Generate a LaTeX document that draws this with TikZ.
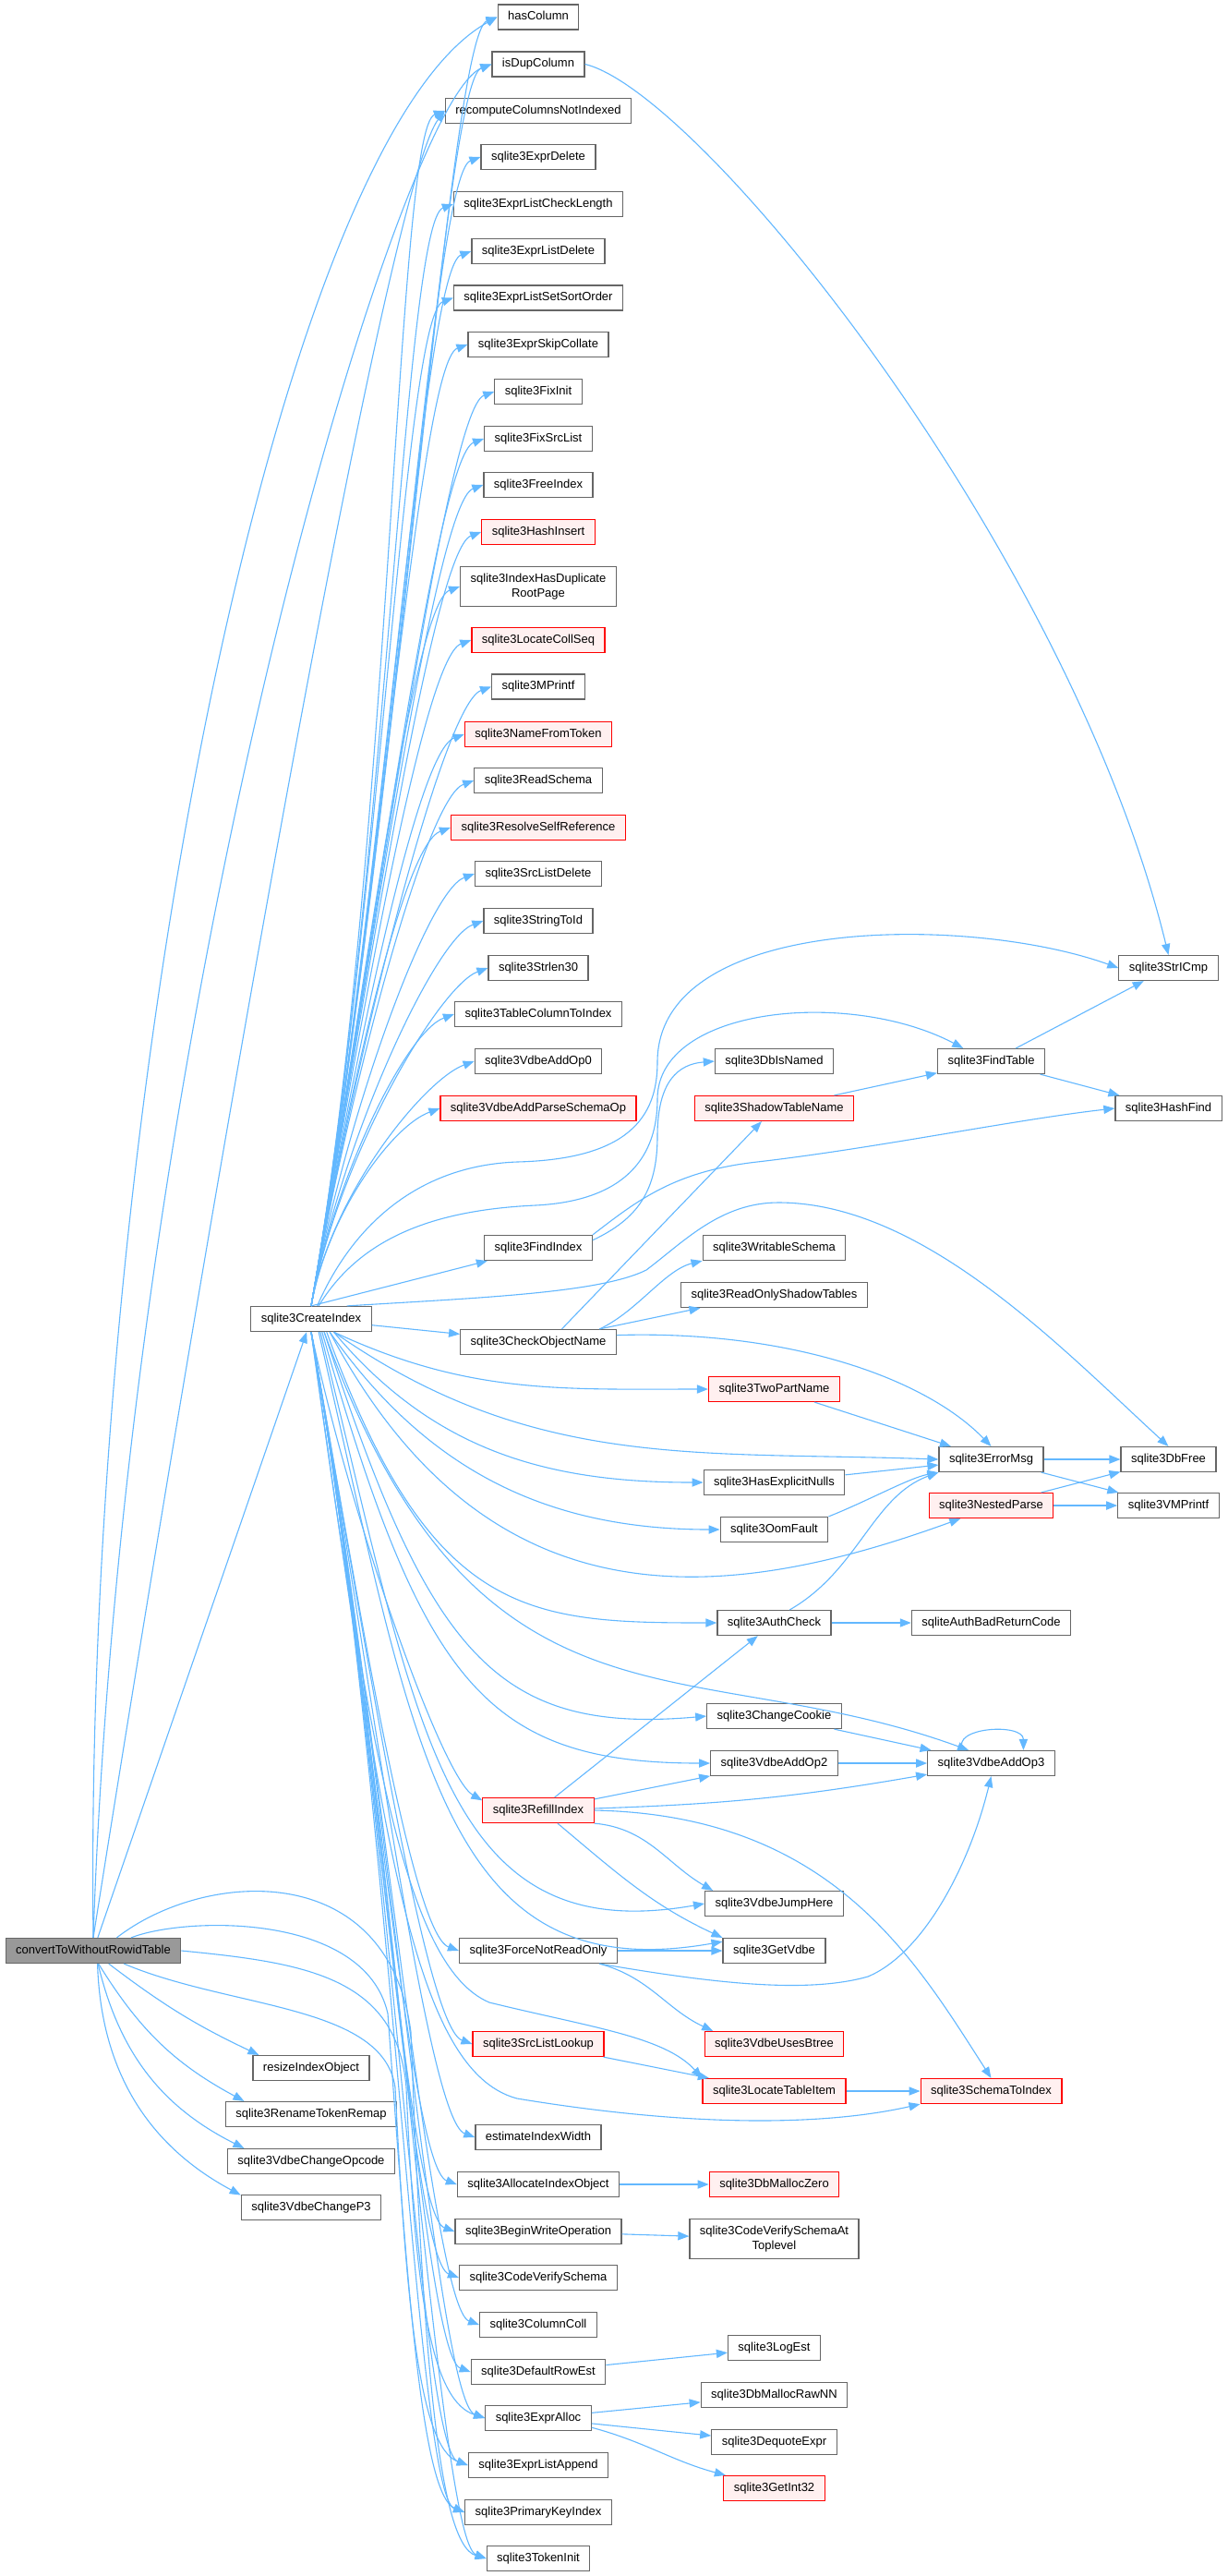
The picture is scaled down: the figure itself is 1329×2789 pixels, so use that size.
\documentclass[tikz,border=0pt]{standalone}
\usepackage{fontspec}
\setmainfont{Liberation Sans}
\usetikzlibrary{arrows.meta}
\definecolor{edgeblue}{HTML}{63B8FF}
\definecolor{boxgray}{HTML}{666666}
\definecolor{hotfill}{HTML}{FFF0F0}
\definecolor{rootfill}{HTML}{999999}
\newcommand{\fnsize}{\fontsize{6.5}{8.2}\selectfont}
\tikzset{
    fn/.style={draw=boxgray, line width=0.6pt, fill=white, font=\fnsize,
        minimum height=13.5pt, inner xsep=5.5pt, inner ysep=2pt,
        text height=4.8pt, text depth=1.4pt},
    fntwo/.style={fn, align=center, text height=, text depth=, inner ysep=3.6pt},
    hot/.style={draw=red, fill=hotfill},
    root/.style={fill=rootfill},
    call/.style={draw=edgeblue, line width=0.55pt, -{Triangle[length=6pt, width=4.6pt]}},
}
\begin{document}
\begin{tikzpicture}[x=0.5pt, y=0.5pt]
    \useasboundingbox[fill=white] (0,0) rectangle (1329,-2789);

    \node[fn, root] (cvt) at (101,-2112) {convertToWithoutRowidTable};

    \node[fn] (crIdx) at (337,-1428) {sqlite3CreateIndex};
    \node[fn] (resize) at (337,-2239) {resizeIndexObject};
    \node[fn] (renTok) at (337,-2289) {sqlite3RenameTokenRemap};
    \node[fn] (chgOp) at (337,-2340) {sqlite3VdbeChangeOpcode};
    \node[fn] (chgP3) at (337,-2390) {sqlite3VdbeChangeP3};

    \node[fn] (hasCol) at (583,-18.5) {hasColumn};
    \node[fn] (isDup) at (583,-69.5) {isDupColumn};
    \node[fn] (recomp) at (583,-120) {recomputeColumnsNotIndexed};
    \node[fn] (exprDel) at (583,-170) {sqlite3ExprDelete};
    \node[fn] (elCheck) at (583,-221) {sqlite3ExprListCheckLength};
    \node[fn] (elDel) at (583,-272) {sqlite3ExprListDelete};
    \node[fn] (elSort) at (583,-322.5) {sqlite3ExprListSetSortOrder};
    \node[fn] (skipColl) at (583,-373) {sqlite3ExprSkipCollate};
    \node[fn] (fixInit) at (583,-424) {sqlite3FixInit};
    \node[fn] (fixSrc) at (583,-475) {sqlite3FixSrcList};
    \node[fn] (freeIdx) at (583,-525) {sqlite3FreeIndex};
    \node[fn, hot] (hashIns) at (583,-576) {sqlite3HashInsert};
    \node[fntwo] (dupRoot) at (583,-635) {sqlite3IndexHasDuplicate\\RootPage};
    \node[fn, hot] (collSeq) at (583,-693) {sqlite3LocateCollSeq};
    \node[fn] (mprintf) at (583,-743.5) {sqlite3MPrintf};
    \node[fn, hot] (nameTok) at (583,-795) {sqlite3NameFromToken};
    \node[fn] (readSch) at (583,-845) {sqlite3ReadSchema};
    \node[fn, hot] (selfRef) at (583,-896) {sqlite3ResolveSelfReference};
    \node[fn] (srcDel) at (583,-946) {sqlite3SrcListDelete};
    \node[fn] (strToId) at (583,-997) {sqlite3StringToId};
    \node[fn] (strlen) at (583,-1048) {sqlite3Strlen30};
    \node[fn] (tabCol) at (583,-1098) {sqlite3TableColumnToIndex};
    \node[fn] (op0) at (583,-1149) {sqlite3VdbeAddOp0};
    \node[fn, hot] (parseOp) at (583,-1200) {sqlite3VdbeAddParseSchemaOp};
    \node[fn] (findIdx) at (583,-1351) {sqlite3FindIndex};
    \node[fn] (chkName) at (583,-1453) {sqlite3CheckObjectName};
    \node[fn, hot] (refill) at (583,-1960) {sqlite3RefillIndex};
    \node[fn] (forceRO) at (583,-2112) {sqlite3ForceNotReadOnly};
    \node[fn, hot] (srcLook) at (583,-2213) {sqlite3SrcListLookup};
    \node[fn] (estW) at (583,-2314) {estimateIndexWidth};
    \node[fn] (allocIdx) at (583,-2365) {sqlite3AllocateIndexObject};
    \node[fn] (beginW) at (583,-2416) {sqlite3BeginWriteOperation};
    \node[fn] (codeVer) at (583,-2466) {sqlite3CodeVerifySchema};
    \node[fn] (colColl) at (583,-2517) {sqlite3ColumnColl};
    \node[fn] (rowEst) at (583,-2568) {sqlite3DefaultRowEst};
    \node[fn] (exprAlloc) at (583,-2618) {sqlite3ExprAlloc};
    \node[fn] (elAppend) at (583,-2669) {sqlite3ExprListAppend};
    \node[fn] (pkIdx) at (583,-2720) {sqlite3PrimaryKeyIndex};
    \node[fn] (tokInit) at (583,-2770) {sqlite3TokenInit};

    \node[fn] (dbNamed) at (838.5,-1149) {sqlite3DbIsNamed};
    \node[fn, hot] (shadow) at (838.5,-1200) {sqlite3ShadowTableName};
    \node[fn] (writable) at (838.5,-1351) {sqlite3WritableSchema};
    \node[fn] (roShadow) at (838.5,-1402) {sqlite3ReadOnlyShadowTables};
    \node[fn, hot] (twoPart) at (838.5,-1504) {sqlite3TwoPartName};
    \node[fn] (expNull) at (838.5,-1605) {sqlite3HasExplicitNulls};
    \node[fn] (oom) at (838.5,-1656) {sqlite3OomFault};
    \node[fn] (auth) at (838.5,-1757) {sqlite3AuthCheck};
    \node[fn] (cookie) at (838.5,-1858) {sqlite3ChangeCookie};
    \node[fn] (op2) at (838.5,-1909) {sqlite3VdbeAddOp2};
    \node[fn] (jump) at (838.5,-2061) {sqlite3VdbeJumpHere};
    \node[fn] (getVdbe) at (838.5,-2112) {sqlite3GetVdbe};
    \node[fn, hot] (usesBt) at (838.5,-2213) {sqlite3VdbeUsesBtree};
    \node[fn, hot] (locTab) at (838.5,-2264) {sqlite3LocateTableItem};
    \node[fn, hot] (mallocZ) at (838.5,-2365) {sqlite3DbMallocZero};
    \node[fntwo] (codeTop) at (838.5,-2424) {sqlite3CodeVerifySchemaAt\\Toplevel};
    \node[fn] (logEst) at (838.5,-2542) {sqlite3LogEst};
    \node[fn] (rawNN) at (838.5,-2593) {sqlite3DbMallocRawNN};
    \node[fn] (dequote) at (838.5,-2644) {sqlite3DequoteExpr};
    \node[fn, hot] (getInt) at (838.5,-2694) {sqlite3GetInt32};

    \node[fn] (findTab) at (1073.5,-1149) {sqlite3FindTable};
    \node[fn] (errMsg) at (1073.5,-1580) {sqlite3ErrorMsg};
    \node[fn, hot] (nested) at (1073.5,-1630) {sqlite3NestedParse};
    \node[fn] (authBad) at (1073.5,-1757) {sqliteAuthBadReturnCode};
    \node[fn] (op3) at (1073.5,-1909) {sqlite3VdbeAddOp3};
    \node[fn, hot] (schIdx) at (1073.5,-2264) {sqlite3SchemaToIndex};

    \node[fn] (strICmp) at (1265.5,-1048) {sqlite3StrICmp};
    \node[fn] (hashFind) at (1265.5,-1200) {sqlite3HashFind};
    \node[fn] (dbFree) at (1265.5,-1580) {sqlite3DbFree};
    \node[fn] (vmprintf) at (1265.5,-1630) {sqlite3VMPrintf};

    \draw[call] (cvt.north) .. controls (90,-1200) and (300,-150) .. (hasCol.west);
    \draw[call] (cvt.north) .. controls (135,-1100) and (430,-110) .. (isDup.west);
    \draw[call] (cvt.north) .. controls (235,-1250) and (420,-200) .. (recomp.west);
    \draw[call] (cvt) -- (crIdx);
    \draw[call] (cvt.-40) to[bend right=6] (resize.166);
    \draw[call] (cvt.-68) to[bend right=15] (renTok.169);
    \draw[call] (cvt.-70) to[bend right=25] (chgOp.169);
    \draw[call] (cvt.-72) to[bend right=30] (chgP3.170);
    \draw[call] (cvt.29) .. controls (220,-2025) and (420,-2010) .. (445,-2200) .. controls (458,-2550) and (475,-2755) .. (tokInit.west);
    \draw[call] (cvt.19) .. controls (200,-2075) and (395,-2070) .. (420,-2180) .. controls (440,-2450) and (455,-2700) .. (pkIdx.west);
    \draw[call] (cvt.east) .. controls (330,-2125) and (430,-2140) .. (440,-2260) .. controls (450,-2500) and (470,-2600) .. (exprAlloc.west);
    \draw[call] (cvt.-23) .. controls (250,-2175) and (415,-2170) .. (428,-2260) .. controls (440,-2500) and (455,-2650) .. (elAppend.west);

    \foreach \callee in {hasCol,isDup,recomp,exprDel,elCheck,elDel,elSort,skipColl,fixInit,fixSrc,freeIdx,hashIns,dupRoot,collSeq,mprintf,nameTok,readSch,selfRef,srcDel,strToId,strlen,tabCol,op0,parseOp}
        \draw[call] (crIdx.north) to[out=80, in=200, in distance=28pt] (\callee.west);
    \foreach \callee in {forceRO,srcLook,estW,allocIdx,beginW,codeVer,colColl,rowEst,exprAlloc,elAppend,pkIdx,tokInit}
        \draw[call] (crIdx.south) to[out=-80, in=160, in distance=28pt] (\callee.west);

    \draw[call] (crIdx.north) -- (findIdx);
    \draw[call] (crIdx) -- (chkName);
    \draw[call] (crIdx.65) .. controls (380,-1330) and (450,-1262) .. (560,-1258) .. controls (680,-1255) and (712,-1210) .. (712,-1150) .. controls (712,-990) and (1050,-990) .. (strICmp.west);
    \draw[call] (crIdx.60) .. controls (390,-1340) and (470,-1310) .. (580,-1305) .. controls (680,-1300) and (712,-1250) .. (712,-1190) .. controls (712,-1090) and (920,-1070) .. (findTab.155);
    \draw[call] (crIdx.20) .. controls (520,-1405) and (650,-1400) .. (700,-1375) .. controls (740,-1345) and (780,-1302) .. (843,-1302) .. controls (1000,-1302) and (1150,-1460) .. (dbFree.north);
    \draw[call] (crIdx.-30) to[out=-25, in=180] (twoPart.west);
    \draw[call] (crIdx.-30) to[out=-35, in=178] (errMsg.west);
    \draw[call] (crIdx.-30) to[out=-50, in=180] (expNull.west);
    \draw[call] (crIdx.-35) to[out=-55, in=180] (oom.west);
    \draw[call] (crIdx.-35) to[out=-62, in=200, out looseness=1.3] (nested.-157);
    \draw[call] (crIdx.-40) to[out=-70, in=180, out looseness=1.6] (auth.west);
    \draw[call] (crIdx.-45) to[out=-70, in=160, out looseness=1.5] (op3.150);
    \draw[call] (crIdx.-45) to[out=-72, in=185, out looseness=1.6] (cookie.west);
    \draw[call] (crIdx.-50) to[out=-74, in=180, out looseness=1.6] (op2.west);
    \draw[call] (crIdx.south) to[out=-78, in=150, in distance=25pt] (refill.170);
    \draw[call] (crIdx.-55) to[out=-76, in=190, out looseness=1.5] (jump.west);
    \draw[call] (crIdx.-60) to[out=-77, in=190, out looseness=1.5] (getVdbe.170);
    \draw[call] (crIdx.south) .. controls (400,-1900) and (440,-2130) .. (530,-2168) .. controls (640,-2195) and (720,-2205) .. (locTab.north west);
    \draw[call] (crIdx.south) .. controls (410,-1950) and (440,-2240) .. (560,-2272) .. controls (760,-2305) and (900,-2300) .. (schIdx.south west);

    \draw[call] (isDup.east) .. controls (760,-100) and (1160,-600) .. (strICmp.north);
    \draw[call] (findIdx.8) .. controls (690,-1320) and (712,-1290) .. (712,-1230) .. controls (712,-1170) and (735,-1152) .. (dbNamed.west);
    \draw[call] (findIdx.north east) .. controls (690,-1300) and (730,-1268) .. (820,-1258) .. controls (950,-1243) and (1100,-1212) .. (hashFind.west);
    \draw[call] (shadow) -- (findTab);
    \draw[call] (findTab) -- (strICmp);
    \draw[call] (findTab) -- (hashFind);
    \draw[call] (chkName.29) -- (shadow);
    \draw[call] (chkName.12) .. controls (690,-1420) and (720,-1375) .. (writable.south west);
    \draw[call] (chkName.12) -- (roShadow.-170);
    \draw[call] (chkName.5) .. controls (850,-1440) and (1000,-1490) .. (errMsg.north);
    \draw[call] (twoPart) -- (errMsg);
    \draw[call] (expNull) -- (errMsg);
    \draw[call] (oom.north east) .. controls (940,-1625) and (985,-1600) .. (errMsg.south west);
    \draw[call] (auth.40) .. controls (930,-1700) and (945,-1620) .. (errMsg.south west);
    \draw[call] (errMsg) -- (dbFree);
    \draw[call] (errMsg) -- (vmprintf);
    \draw[call] (nested) -- (dbFree);
    \draw[call] (nested) -- (vmprintf);
    \draw[call] (auth) -- (authBad);
    \draw[call] (cookie) -- (op3);
    \draw[call] (op2) -- (op3);
    \draw[call] (op3.155) .. controls +(-15,25) and +(0,30) .. (op3.22);

    \draw[call] (refill) -- (auth);
    \draw[call] (refill) -- (op2);
    \draw[call] (refill) to[bend right=4] (op3);
    \draw[call] (refill.east) .. controls (900,-1965) and (990,-2120) .. (schIdx.north);
    \draw[call] (refill.south east) to[out=-5, in=150] (jump.168);
    \draw[call] (refill.-34) to[out=-40, in=155] (getVdbe.north west);
    \draw[call] (forceRO) -- (getVdbe);
    \draw[call] (forceRO.-12) .. controls (760,-2145) and (870,-2160) .. (940,-2140) .. controls (1000,-2115) and (1050,-2020) .. (op3.south);
    \draw[call] (forceRO.-12) to[out=-15, in=155] (usesBt.168);
    \draw[call] (srcLook) -- (locTab);
    \draw[call] (locTab) -- (schIdx);
    \draw[call] (allocIdx) -- (mallocZ);
    \draw[call] (beginW) -- (codeTop);
    \draw[call] (rowEst) -- (logEst);
    \draw[call] (exprAlloc) -- (rawNN);
    \draw[call] (exprAlloc) -- (dequote);
    \draw[call] (exprAlloc.-10) to[out=-15, in=165] (getInt.165);
\end{tikzpicture}
\end{document}
